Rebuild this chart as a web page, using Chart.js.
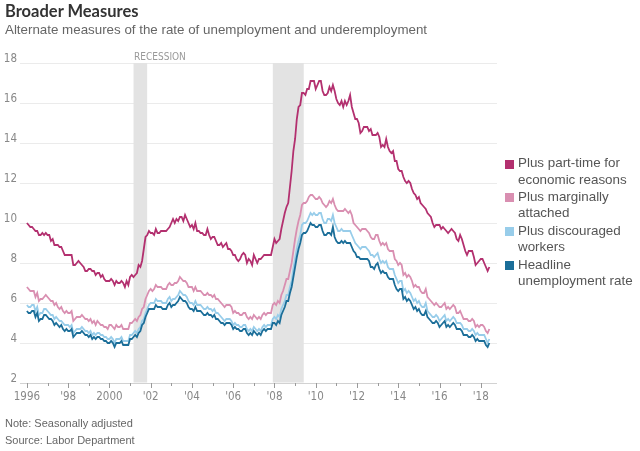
<!DOCTYPE html>
<html>
<head>
<meta charset="utf-8">
<script src="https://cdn.jsdelivr.net/npm/chart.js@4.4.1/dist/chart.umd.min.js"></script>
<style>
html,body{margin:0;padding:0;background:#fff;}
#wrap{position:relative;width:640px;height:451px;overflow:hidden;font-family:"Liberation Sans",Arial,sans-serif;}
#c{position:absolute;left:0;top:0;}
.t{position:absolute;white-space:nowrap;}
#title{left:5px;top:0.5px;font-family:Lato,"Liberation Sans",sans-serif;font-weight:bold;font-size:16.5px;line-height:20px;color:#333;}
#sub{left:5px;top:21.5px;font-size:13.35px;color:#666;}
#note{left:5px;top:417px;font-size:11px;color:#666;}
#src{left:5px;top:434px;font-size:11px;color:#666;}
.leg{position:absolute;left:505px;font-size:13.4px;line-height:16.5px;color:#555;padding-left:13px;white-space:nowrap;}
.leg i{position:absolute;left:0;top:4.5px;width:9px;height:9px;}
</style>
</head>
<body>
<div id="wrap">
<canvas id="c" width="640" height="451"></canvas>
<div class="t" id="title">Broader Measures</div>
<div class="t" id="sub">Alternate measures of the rate of unemployment and underemployment</div>
<div class="t" id="note">Note: Seasonally adjusted</div>
<div class="t" id="src">Source: Labor Department</div>
<div id="legend"></div>
</div>
<script>
// ---- Data (monthly, Jan 1996 - Jun 2018) ----
const startYear = 1996;

const seriesNames = [
  ["Plus part-time for", "economic reasons"],
  ["Plus marginally", "attached"],
  ["Plus discouraged", "workers"],
  ["Headline", "unemployment rate"]
];

const u6 = [
 10.0, 9.9, 9.8, 9.8, 9.7, 9.6, 9.6, 9.4, 9.4, 9.5, 9.4, 9.5,
 9.4, 9.4, 9.1, 9.2, 8.9, 8.9, 8.9, 8.8, 8.8, 8.6, 8.4, 8.4,
 8.4, 8.4, 8.4, 7.9, 7.9, 8.0, 8.1, 8.0, 7.9, 7.8, 7.6, 7.6,
 7.7, 7.7, 7.6, 7.6, 7.4, 7.5, 7.5, 7.3, 7.4, 7.2, 7.1, 7.1,
 7.1, 7.2, 7.1, 6.9, 7.1, 7.0, 7.0, 7.1, 7.0, 6.8, 7.1, 6.9,
 7.3, 7.4, 7.3, 7.4, 7.5, 7.9, 7.8, 8.1, 8.7, 9.3, 9.4, 9.6,
 9.5, 9.5, 9.4, 9.7, 9.5, 9.5, 9.6, 9.6, 9.6, 9.6, 9.7, 9.8,
 10.0, 10.2, 10.0, 10.2, 10.1, 10.3, 10.3, 10.1, 10.4, 10.2, 10.0, 9.8,
 9.9, 9.7, 10.0, 9.6, 9.6, 9.5, 9.5, 9.4, 9.4, 9.7, 9.4, 9.2,
 9.3, 9.3, 9.1, 8.9, 8.9, 9.0, 8.8, 8.9, 9.0, 8.7, 8.7, 8.6,
 8.4, 8.4, 8.2, 8.1, 8.2, 8.4, 8.5, 8.4, 8.0, 8.2, 8.1, 7.9,
 8.4, 8.2, 8.0, 8.2, 8.2, 8.3, 8.4, 8.4, 8.4, 8.4, 8.4, 8.8,
 9.2, 9.0, 9.1, 9.2, 9.7, 10.1, 10.5, 10.8, 11.0, 11.8, 12.6, 13.6,
 14.2, 15.2, 15.8, 15.9, 16.5, 16.5, 16.4, 16.7, 16.7, 17.1, 17.1, 17.1,
 16.7, 16.9, 17.1, 17.1, 16.6, 16.4, 16.4, 16.5, 16.8, 16.6, 16.9, 16.6,
 16.2, 16.0, 15.9, 16.1, 15.8, 16.1, 15.9, 16.1, 16.4, 15.8, 15.5, 15.2,
 15.2, 15.0, 14.5, 14.6, 14.8, 14.8, 14.8, 14.6, 14.7, 14.4, 14.4, 14.4,
 14.5, 14.3, 13.8, 13.9, 13.8, 14.2, 13.8, 13.6, 13.5, 13.6, 13.1, 13.1,
 12.7, 12.6, 12.6, 12.3, 12.1, 12.0, 12.1, 12.0, 11.7, 11.5, 11.4, 11.2,
 11.3, 11.0, 10.9, 10.8, 10.7, 10.5, 10.4, 10.3, 10.0, 9.8, 9.9, 9.9,
 9.9, 9.7, 9.8, 9.7, 9.6, 9.5, 9.6, 9.7, 9.6, 9.5, 9.2, 9.1,
 9.4, 9.2, 8.9, 8.6, 8.4, 8.6, 8.6, 8.6, 8.3, 7.9, 8.0, 8.1,
 8.2, 8.2, 8.0, 7.8, 7.6, 7.8
];

const u5 = [
 6.8, 6.7, 6.6, 6.6, 6.6, 6.3, 6.5, 6.1, 6.2, 6.2, 6.3, 6.4,
 6.3, 6.2, 6.1, 6.1, 5.9, 6.0, 5.8, 5.7, 5.8, 5.6, 5.5, 5.6,
 5.5, 5.5, 5.6, 5.1, 5.2, 5.3, 5.3, 5.3, 5.4, 5.3, 5.2, 5.2,
 5.1, 5.2, 5.0, 5.1, 4.9, 5.1, 5.0, 4.9, 4.9, 4.8, 4.8, 4.7,
 4.9, 4.9, 4.8, 4.7, 4.9, 4.8, 4.8, 4.9, 4.7, 4.7, 4.7, 4.7,
 5.0, 5.0, 5.1, 5.2, 5.1, 5.3, 5.4, 5.7, 5.8, 6.2, 6.4, 6.6,
 6.7, 6.6, 6.7, 6.9, 6.8, 6.8, 6.8, 6.7, 6.7, 6.7, 6.9, 7.0,
 6.9, 6.9, 7.0, 7.0, 7.1, 7.3, 7.2, 7.1, 7.1, 7.0, 6.8, 6.8,
 6.8, 6.6, 6.8, 6.6, 6.6, 6.6, 6.5, 6.4, 6.4, 6.5, 6.4, 6.4,
 6.3, 6.4, 6.2, 6.2, 6.1, 6.0, 5.9, 5.8, 5.9, 5.9, 5.9, 5.8,
 5.5, 5.6, 5.5, 5.5, 5.4, 5.4, 5.5, 5.5, 5.3, 5.2, 5.3, 5.2,
 5.4, 5.3, 5.2, 5.3, 5.2, 5.4, 5.5, 5.4, 5.5, 5.5, 5.5, 5.9,
 6.0, 5.9, 6.1, 6.0, 6.4, 6.6, 6.9, 7.2, 7.2, 7.6, 8.0, 8.6,
 9.2, 9.7, 10.1, 10.4, 10.9, 11.0, 11.0, 11.1, 11.3, 11.4, 11.4, 11.3,
 11.2, 11.2, 11.3, 11.2, 11.0, 10.9, 10.8, 10.9, 11.1, 11.0, 11.2, 10.9,
 10.7, 10.6, 10.6, 10.6, 10.6, 10.7, 10.6, 10.5, 10.6, 10.4, 10.0, 9.9,
 9.8, 9.7, 9.6, 9.7, 9.7, 9.7, 9.6, 9.5, 9.3, 9.2, 9.2, 9.4,
 9.4, 9.1, 8.9, 9.0, 8.9, 9.0, 8.7, 8.6, 8.6, 8.6, 8.2, 8.1,
 7.9, 8.0, 7.9, 7.4, 7.5, 7.3, 7.4, 7.3, 7.1, 6.8, 6.9, 6.8,
 6.8, 6.6, 6.5, 6.5, 6.7, 6.3, 6.2, 6.1, 6.0, 5.9, 6.0, 5.9,
 5.8, 5.8, 5.9, 6.0, 5.7, 5.8, 5.7, 5.8, 5.9, 5.8, 5.5, 5.5,
 5.6, 5.4, 5.2, 5.2, 5.2, 5.1, 5.1, 5.2, 5.1, 4.8, 4.9, 4.8,
 4.9, 4.9, 4.8, 4.6, 4.5, 4.7
];

const u4 = [
 5.9, 5.8, 5.8, 5.9, 5.9, 5.6, 5.8, 5.4, 5.5, 5.5, 5.7, 5.7,
 5.6, 5.5, 5.4, 5.4, 5.2, 5.3, 5.2, 5.1, 5.1, 5.0, 4.9, 4.9,
 4.9, 4.8, 4.9, 4.5, 4.6, 4.7, 4.7, 4.7, 4.8, 4.7, 4.6, 4.6,
 4.5, 4.6, 4.4, 4.5, 4.4, 4.5, 4.5, 4.4, 4.4, 4.3, 4.3, 4.2,
 4.2, 4.3, 4.2, 4.0, 4.2, 4.2, 4.2, 4.3, 4.1, 4.1, 4.1, 4.1,
 4.4, 4.4, 4.5, 4.6, 4.5, 4.7, 4.8, 5.1, 5.2, 5.5, 5.7, 5.9,
 6.0, 6.0, 6.0, 6.2, 6.1, 6.1, 6.1, 6.0, 6.0, 6.0, 6.2, 6.3,
 6.1, 6.2, 6.2, 6.3, 6.4, 6.6, 6.5, 6.4, 6.4, 6.3, 6.1, 6.0,
 6.0, 5.9, 6.1, 5.9, 5.9, 5.9, 5.8, 5.7, 5.7, 5.8, 5.7, 5.7,
 5.6, 5.7, 5.5, 5.5, 5.4, 5.3, 5.2, 5.1, 5.2, 5.2, 5.2, 5.1,
 4.9, 5.0, 4.9, 4.9, 4.8, 4.8, 4.9, 4.9, 4.7, 4.6, 4.7, 4.6,
 4.8, 4.7, 4.6, 4.7, 4.6, 4.8, 4.9, 4.8, 4.9, 4.9, 4.9, 5.2,
 5.3, 5.2, 5.4, 5.3, 5.7, 5.9, 6.1, 6.4, 6.4, 6.8, 7.1, 7.7,
 8.2, 8.7, 9.1, 9.4, 9.9, 10.0, 10.0, 10.1, 10.3, 10.5, 10.4, 10.5,
 10.4, 10.4, 10.5, 10.5, 10.2, 10.0, 10.0, 10.2, 10.2, 10.1, 10.4, 10.0,
 9.8, 9.6, 9.6, 9.7, 9.6, 9.6, 9.6, 9.6, 9.6, 9.4, 9.2, 9.0,
 8.9, 8.8, 8.7, 8.8, 8.8, 8.8, 8.7, 8.6, 8.4, 8.4, 8.3, 8.4,
 8.5, 8.2, 8.0, 8.1, 8.0, 8.1, 7.8, 7.7, 7.7, 7.7, 7.4, 7.2,
 7.0, 7.1, 7.1, 6.6, 6.7, 6.5, 6.6, 6.5, 6.3, 6.1, 6.2, 6.0,
 6.1, 5.9, 5.8, 5.8, 6.0, 5.6, 5.5, 5.4, 5.3, 5.3, 5.4, 5.3,
 5.1, 5.2, 5.3, 5.4, 5.1, 5.2, 5.1, 5.2, 5.3, 5.2, 5.0, 5.0,
 5.0, 4.9, 4.7, 4.7, 4.7, 4.6, 4.6, 4.7, 4.6, 4.4, 4.5, 4.4,
 4.4, 4.4, 4.4, 4.2, 4.0, 4.2
];

const u3 = [
 5.6, 5.5, 5.5, 5.6, 5.6, 5.3, 5.5, 5.1, 5.2, 5.2, 5.4, 5.4,
 5.3, 5.2, 5.2, 5.1, 4.9, 5.0, 4.9, 4.8, 4.9, 4.7, 4.6, 4.7,
 4.6, 4.6, 4.7, 4.3, 4.4, 4.5, 4.5, 4.5, 4.6, 4.5, 4.4, 4.4,
 4.3, 4.4, 4.2, 4.3, 4.2, 4.3, 4.3, 4.2, 4.2, 4.1, 4.1, 4.0,
 4.0, 4.1, 4.0, 3.8, 4.0, 4.0, 4.0, 4.1, 3.9, 3.9, 3.9, 3.9,
 4.2, 4.2, 4.3, 4.4, 4.3, 4.5, 4.6, 4.9, 5.0, 5.3, 5.5, 5.7,
 5.7, 5.7, 5.7, 5.9, 5.8, 5.8, 5.8, 5.7, 5.7, 5.7, 5.9, 6.0,
 5.8, 5.9, 5.9, 6.0, 6.1, 6.3, 6.2, 6.1, 6.1, 6.0, 5.8, 5.7,
 5.7, 5.6, 5.8, 5.6, 5.6, 5.6, 5.5, 5.4, 5.4, 5.5, 5.4, 5.4,
 5.3, 5.4, 5.2, 5.2, 5.1, 5.0, 5.0, 4.9, 5.0, 5.0, 5.0, 4.9,
 4.7, 4.8, 4.7, 4.7, 4.6, 4.6, 4.7, 4.7, 4.5, 4.4, 4.5, 4.4,
 4.6, 4.5, 4.4, 4.5, 4.4, 4.6, 4.7, 4.6, 4.7, 4.7, 4.7, 5.0,
 5.0, 4.9, 5.1, 5.0, 5.4, 5.6, 5.8, 6.1, 6.1, 6.5, 6.8, 7.3,
 7.8, 8.3, 8.7, 9.0, 9.4, 9.5, 9.5, 9.6, 9.8, 10.0, 9.9, 9.9,
 9.8, 9.8, 9.9, 9.9, 9.6, 9.4, 9.4, 9.5, 9.5, 9.4, 9.8, 9.3,
 9.1, 9.0, 9.0, 9.1, 9.0, 9.1, 9.0, 9.0, 9.0, 8.8, 8.6, 8.5,
 8.3, 8.3, 8.2, 8.2, 8.2, 8.2, 8.2, 8.1, 7.8, 7.8, 7.7, 7.9,
 8.0, 7.7, 7.5, 7.6, 7.5, 7.5, 7.3, 7.2, 7.2, 7.2, 6.9, 6.7,
 6.6, 6.7, 6.7, 6.2, 6.3, 6.1, 6.2, 6.1, 5.9, 5.7, 5.8, 5.6,
 5.7, 5.5, 5.4, 5.4, 5.6, 5.3, 5.2, 5.1, 5.0, 5.0, 5.1, 5.0,
 4.8, 4.9, 5.0, 5.1, 4.8, 4.9, 4.8, 4.9, 5.0, 4.9, 4.7, 4.7,
 4.7, 4.6, 4.4, 4.4, 4.4, 4.3, 4.3, 4.4, 4.3, 4.1, 4.2, 4.1,
 4.1, 4.1, 4.1, 3.9, 3.8, 4.0
];

const tickYears = [1996,1997,1998,1999,2000,2001,2002,2003,2004,2005,2006,2007,2008,2009,2010,2011,2012,2013,2014,2015,2016,2017,2018];
const tickLabels = ["1996","","'98","","2000","","'02","","'04","","'06","","'08","","'10","","'12","","'14","","'16","","'18"];
const yTicks = [2,4,6,8,10,12,14,16,18];
const recessions = [[2001.17, 2001.83], [2007.92, 2009.42]];
const recessionLabel = "RECESSION";

// ---- styling ----
const colors = ["#b3306f", "#d98fb1", "#98cdea", "#1b6e99"];
const narrow = '"Liberation Sans Narrow","DejaVu Sans Condensed",Arial,sans-serif';

// legend (HTML)
const tops = [155, 188.5, 222.5, 256.5];
const legend = document.getElementById('legend');
seriesNames.forEach((lines, i) => {
  const d = document.createElement('div');
  d.className = 'leg';
  d.style.top = tops[i] + 'px';
  d.innerHTML = '<i style="background:' + colors[i] + '"></i>' + lines.join('<br>');
  legend.appendChild(d);
});

const toPts = arr => arr.map((v, i) => ({ x: startYear + i / 12, y: v }));

const recessionPlugin = {
  id: 'recession',
  beforeDatasetsDraw(chart) {
    const { ctx, chartArea: a, scales: { x } } = chart;
    ctx.save();
    ctx.fillStyle = '#e3e3e3';
    recessions.forEach(([s, e]) => {
      const x0 = x.getPixelForValue(s), x1 = x.getPixelForValue(e);
      ctx.fillRect(x0, a.top, x1 - x0, a.bottom - a.top - 0.5);
    });
    ctx.fillStyle = '#999';
    ctx.font = '10px ' + narrow;
    ctx.textAlign = 'left';
    ctx.textBaseline = 'alphabetic';
    ctx.fillText(recessionLabel, x.getPixelForValue(recessions[0][0]) + 0.5, a.top - 3);
    ctx.restore();
  },
  afterDraw(chart) {
    const { ctx, chartArea: a, scales: { x } } = chart;
    ctx.save();
    ctx.strokeStyle = '#9a9a9a';
    ctx.lineWidth = 1;
    tickYears.forEach((yr, i) => {
      const px = Math.round(x.getPixelForValue(yr)) + 0.5;
      const len = (i % 2 === 0) ? 5 : 3;
      ctx.beginPath();
      ctx.moveTo(px, a.bottom);
      ctx.lineTo(px, a.bottom + len);
      ctx.stroke();
    });
    ctx.restore();
  }
};

const ds = [
  { data: toPts(u3), color: colors[3] },
  { data: toPts(u4), color: colors[2] },
  { data: toPts(u5), color: colors[1] },
  { data: toPts(u6), color: colors[0] }
].map(d => ({
  data: d.data, borderColor: d.color, backgroundColor: d.color,
  borderWidth: 1.8, pointRadius: 0, tension: 0, fill: false
}));

new Chart(document.getElementById('c'), {
  type: 'line',
  data: { datasets: ds },
  options: {
    responsive: false,
    animation: false,
    devicePixelRatio: 1,
    layout: { padding: { top: 63, right: 143, left: 0, bottom: 0 } },
    plugins: { legend: { display: false }, tooltip: { enabled: false }, title: { display: false } },
    scales: {
      x: {
        type: 'linear',
        min: 1995.666,
        max: 2018.787,
        afterBuildTicks: s => { s.ticks = tickYears.map(v => ({ value: v })); },
        afterFit: s => { s.height = 68; },
        grid: { display: false, drawTicks: false },
        border: { display: false },
        ticks: {
          autoSkip: false, maxRotation: 0, padding: 7,
          color: '#888', font: { family: narrow, size: 11.5 },
          callback: (v, i) => tickLabels[i]
        }
      },
      y: {
        min: 2, max: 18,
        afterBuildTicks: s => { s.ticks = yTicks.map(v => ({ value: v })); },
        afterFit: s => { s.width = 20; },
        grid: {
          drawTicks: false,
          color: c => (c.tick && c.tick.value === 2) ? '#d2d2d2' : '#ebebeb',
          lineWidth: 1
        },
        border: { display: false },
        ticks: {
          padding: 3, labelOffset: -4,
          color: '#888', font: { family: narrow, size: 11.5 },
          callback: v => String(v)
        }
      }
    }
  },
  plugins: [recessionPlugin]
});
</script>
</body>
</html>
